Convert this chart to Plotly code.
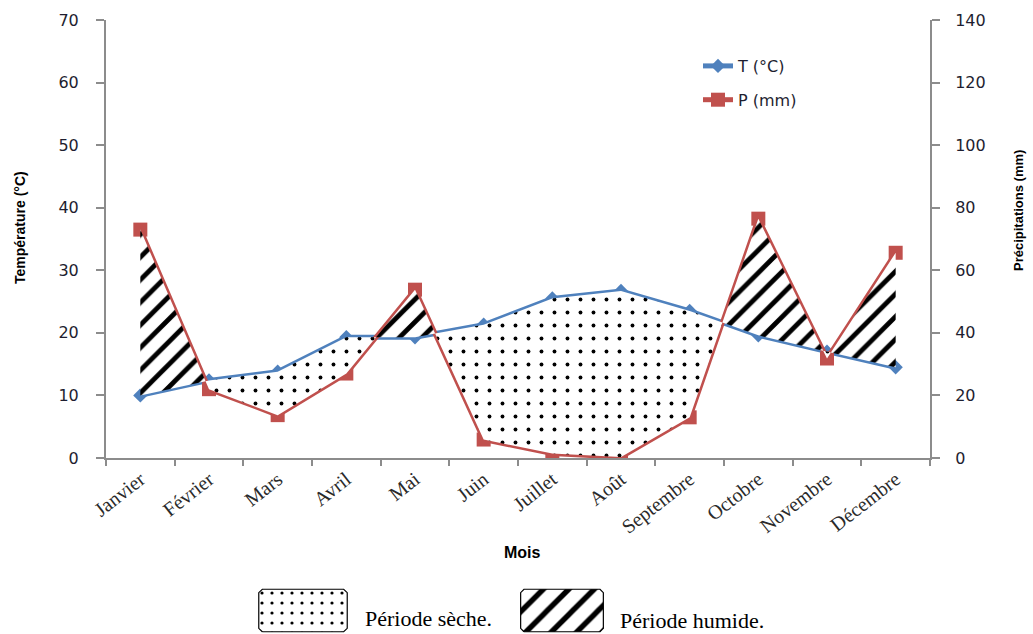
import numpy as np
import plotly.graph_objects as go

# Monthly climate data
months = ["Janvier", "Février", "Mars", "Avril", "Mai", "Juin", "Juillet",
          "Août", "Septembre", "Octobre", "Novembre", "Décembre"]
temperature = [10.0, 12.4, 13.8, 19.3, 19.3, 21.3, 25.5, 26.7, 23.5, 19.6, 17.0, 14.5]
precipitation = [73.0, 22.0, 13.7, 27.0, 53.8, 5.9, 1.4, 0.3, 13.0, 76.5, 31.8, 65.6]

W, H = 1033, 634
PLOT_L, PLOT_R, PLOT_T, PLOT_B = 106, 930, 20, 458

BLUE = "#4F81BD"
RED = "#C0504D"
AXIS = "#8C8C8C"
TICKC = "#1E1E30"


def px_x(v):
    return v / W


def px_y(v):
    return (H - v) / H


def period_polygons(T, P):
    """Split the area between T and P/2 (Gaussen scale P = 2T) into dry and wet polygons."""
    T = np.asarray(T, float)
    Q = np.asarray(P, float) / 2.0
    d = T - Q
    pts = []  # (x, t, q, sign)
    for i in range(len(T)):
        pts.append((float(i), T[i], Q[i], np.sign(d[i])))
        if i < len(T) - 1 and d[i] * d[i + 1] < 0:
            f = d[i] / (d[i] - d[i + 1])
            xc = i + f
            yc = T[i] + f * (T[i + 1] - T[i])
            pts.append((xc, yc, yc, 0.0))
    runs = {1.0: [], -1.0: []}
    cur, cur_sign = [], None
    for p in pts:
        if p[3] == 0.0:
            if cur:
                cur.append(p)
                runs[cur_sign].append(cur)
            cur, cur_sign = [p], None
            continue
        if cur_sign is None:
            cur_sign = p[3]
        cur.append(p)
    if cur and cur_sign is not None:
        runs[cur_sign].append(cur)

    out = {}
    for s, rlist in runs.items():
        xs, ys = [], []
        for r in rlist:
            rx = [p[0] for p in r]
            rt = [p[1] for p in r]
            rq = [p[2] for p in r]
            xs += rx + rx[::-1] + [rx[0], None]
            ys += rt + rq[::-1] + [rt[0], None]
        out[s] = (xs, ys)
    return out


polys = period_polygons(temperature, precipitation)

dry_pattern = dict(shape=".", size=13, solidity=0.07, fgcolor="black",
                   bgcolor="white", fgopacity=1, fillmode="replace")
wet_pattern = dict(shape="/", size=16, solidity=0.3, fgcolor="black",
                   bgcolor="white", fgopacity=1, fillmode="replace")

fig = go.Figure()

# Dry period (T > P/2) and wet period (P/2 > T) areas
fig.add_trace(go.Scatter(
    x=polys[1.0][0], y=polys[1.0][1], xaxis="x2", yaxis="y",
    mode="lines", line=dict(width=0), fill="toself",
    fillcolor="white", fillpattern=dry_pattern,
    showlegend=False, hoverinfo="skip"))
fig.add_trace(go.Scatter(
    x=polys[-1.0][0], y=polys[-1.0][1], xaxis="x2", yaxis="y",
    mode="lines", line=dict(width=0), fill="toself",
    fillcolor="white", fillpattern=wet_pattern,
    showlegend=False, hoverinfo="skip"))

# Temperature and precipitation curves
fig.add_trace(go.Scatter(
    x=months, y=temperature, name="T (°C)", xaxis="x", yaxis="y",
    mode="lines+markers", legendgroup="t",
    line=dict(color=BLUE, width=5),
    marker=dict(symbol="diamond", size=11, color=BLUE)))
fig.add_trace(go.Scatter(
    x=months, y=precipitation, name="P (mm)", xaxis="x", yaxis="y2",
    mode="lines+markers", legendgroup="p",
    line=dict(color=RED, width=5),
    marker=dict(symbol="square", size=14, color=RED)))

# Pattern keys for the two periods
sw_x = [0.04, 0.96, 1.0, 1.0, 0.96, 0.04, 0.0, 0.0, 0.04]
sw_y = [0.0, 0.0, 0.08, 0.92, 1.0, 1.0, 0.92, 0.08, 0.0]
fig.add_trace(go.Scatter(
    x=sw_x, y=sw_y, xaxis="x3", yaxis="y3", mode="lines",
    line=dict(color="black", width=1.2), fill="toself",
    fillcolor="white", fillpattern=dict(shape=".", size=10, solidity=0.08,
                                        fgcolor="black", bgcolor="white",
                                        fgopacity=1, fillmode="replace"),
    showlegend=False, hoverinfo="skip"))
fig.add_trace(go.Scatter(
    x=sw_x, y=sw_y, xaxis="x4", yaxis="y4", mode="lines",
    line=dict(color="black", width=1.2), fill="toself",
    fillcolor="white", fillpattern=dict(shape="/", size=18, solidity=0.3,
                                        fgcolor="black", bgcolor="white",
                                        fgopacity=1, fillmode="replace"),
    showlegend=False, hoverinfo="skip"))

x_dom = [px_x(PLOT_L), px_x(PLOT_R)]
y_dom = [px_y(PLOT_B), px_y(PLOT_T)]
sw_ydom = [px_y(633), px_y(588)]

hidden = dict(visible=False, fixedrange=True, automargin=False)

fig.update_layout(
    width=W, height=H,
    margin=dict(l=0, r=0, t=0, b=0, autoexpand=False),
    paper_bgcolor="white", plot_bgcolor="white",
    font=dict(family="DejaVu Sans", color=TICKC),
    xaxis=dict(
        domain=x_dom, anchor="y", type="category", automargin=False,
        categoryorder="array", categoryarray=months,
        range=[-0.5, 11.5], tickson="boundaries",
        ticks="outside", ticklen=6, tickcolor=AXIS, tickwidth=1.5,
        showline=True, linecolor=AXIS, linewidth=2,
        showgrid=False, zeroline=False, tickangle=-38,
        tickfont=dict(family="Liberation Serif", size=20, color="#2a2a2a")),
    xaxis2=dict(overlaying="x", anchor="y", range=[-0.5, 11.5],
                visible=False, showgrid=False, zeroline=False, automargin=False),
    yaxis=dict(
        domain=y_dom, anchor="x", range=[0, 70], dtick=10, automargin=False,
        ticks="outside", ticklen=8, tickcolor=AXIS, tickwidth=1.5,
        showline=True, linecolor=AXIS, linewidth=2,
        showgrid=False, zeroline=False, ticklabelstandoff=14,
        tickfont=dict(family="DejaVu Sans", size=16, color=TICKC)),
    yaxis2=dict(
        overlaying="y", side="right", anchor="x", range=[0, 140], dtick=20,
        automargin=False,
        ticks="outside", ticklen=8, tickcolor=AXIS, tickwidth=1.5,
        showline=True, linecolor=AXIS, linewidth=2,
        showgrid=False, zeroline=False, ticklabelstandoff=12,
        tickfont=dict(family="DejaVu Sans", size=16, color=TICKC)),
    xaxis3=dict(domain=[px_x(257), px_x(349)], anchor="y3", range=[-0.02, 1.02], **hidden),
    yaxis3=dict(domain=sw_ydom, anchor="x3", range=[-0.03, 1.03], **hidden),
    xaxis4=dict(domain=[px_x(519), px_x(605)], anchor="y4", range=[-0.02, 1.02], **hidden),
    yaxis4=dict(domain=sw_ydom, anchor="x4", range=[-0.03, 1.03], **hidden),
    legend=dict(
        x=px_x(698), y=px_y(49), xanchor="left", yanchor="top",
        bgcolor="rgba(0,0,0,0)", borderwidth=0,
        traceorder="grouped", tracegroupgap=10,
        font=dict(family="DejaVu Sans", size=16, color=TICKC)),
    showlegend=True,
)

annotations = [
    dict(text="<b>Température (°C)</b>", x=px_x(20), y=px_y(228),
         textangle=-90, font=dict(family="Liberation Sans", size=14, color="black")),
    dict(text="<b>Précipitations (mm)</b>", x=px_x(1018), y=px_y(211),
         textangle=-90, font=dict(family="Liberation Sans", size=13, color="black")),
    dict(text="<b>Mois</b>", x=px_x(522), y=px_y(552),
         font=dict(family="Liberation Sans", size=16, color="black")),
    dict(text="Période sèche.", x=px_x(363), y=px_y(618), xanchor="left",
         font=dict(family="Liberation Serif", size=22, color="black")),
    dict(text="Période humide.", x=px_x(618), y=px_y(620), xanchor="left",
         font=dict(family="Liberation Serif", size=22, color="black")),
]
for a in annotations:
    a.setdefault("xanchor", "center")
    a.update(xref="paper", yref="paper", yanchor="middle", showarrow=False)
fig.update_layout(annotations=annotations)

fig.write_html("out.html")
